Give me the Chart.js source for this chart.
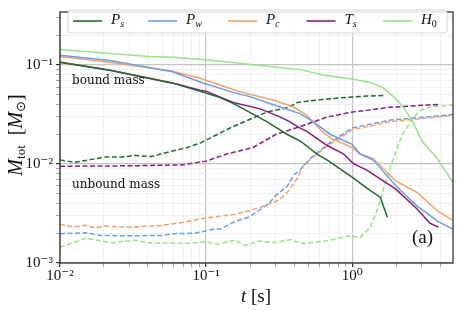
<!DOCTYPE html>
<html>
<head>
<meta charset="utf-8">
<script src="https://cdn.jsdelivr.net/npm/chart.js@4"></script>
<style>
  html, body { margin: 0; padding: 0; background: #fff; }
  #wrap { width: 457px; height: 311px; }
</style>
</head>
<body>
<div id="wrap"><canvas id="mycanvas"></canvas></div>
<script>
// bound mass (solid lines)
var tPsBound = [0.01, 0.022, 0.059, 0.091, 0.125, 0.153, 0.18, 0.26, 0.36, 0.44, 0.52, 0.57, 0.68, 1.02, 1.26, 1.56, 1.74];
var mPsBound = [0.107, 0.0888, 0.0657, 0.0545, 0.0469, 0.041, 0.0361, 0.0268, 0.0199, 0.0171, 0.0142, 0.0127, 0.0109, 0.0072, 0.0057, 0.0046, 0.0029];
var tPwBound = [0.01, 0.022, 0.059, 0.095, 0.153, 0.2, 0.26, 0.38, 0.44, 0.52, 0.71, 1.0, 1.13, 1.4, 2.0, 2.76, 3.9, 4.9];
var mPwBound = [0.126, 0.111, 0.0855, 0.066, 0.053, 0.048, 0.0419, 0.0348, 0.0323, 0.0278, 0.0199, 0.0158, 0.0127, 0.0109, 0.006, 0.0038, 0.0026, 0.0022];
var tPcBound = [0.01, 0.022, 0.059, 0.091, 0.153, 0.2, 0.30, 0.40, 0.49, 0.63, 0.71, 1.0, 1.13, 1.4, 2.0, 2.76, 3.9, 4.9];
var mPcBound = [0.122, 0.107, 0.0868, 0.0735, 0.0567, 0.0506, 0.0436, 0.0375, 0.0311, 0.021, 0.0184, 0.0147, 0.0127, 0.0113, 0.0067, 0.0052, 0.0033, 0.0027];
var tTsBound = [0.01, 0.022, 0.059, 0.091, 0.1, 0.153, 0.235, 0.32, 0.37, 0.44, 0.49, 0.63, 0.68, 0.87, 1.02, 1.26, 2.0, 2.76, 3.4, 3.9];
var mTsBound = [0.107, 0.0888, 0.066, 0.0557, 0.0545, 0.0419, 0.0361, 0.030, 0.027, 0.0231, 0.0214, 0.0165, 0.0153, 0.0127, 0.0101, 0.0087, 0.00555, 0.00355, 0.00253, 0.0023];
var tH0Bound = [0.01, 0.022, 0.041, 0.059, 0.1, 0.146, 0.2, 0.44, 0.63, 1.0, 1.33, 1.63, 1.9, 2.2, 2.6, 3.0, 3.8, 4.9];
var mH0Bound = [0.144, 0.131, 0.122, 0.1197, 0.113, 0.107, 0.1016, 0.090, 0.0793, 0.0725, 0.0667, 0.0588, 0.0487, 0.0389, 0.0268, 0.0171, 0.0115, 0.0065];

// unbound mass (dashed lines)
var tPsUnbound = [0.01, 0.0127, 0.0204, 0.0265, 0.0326, 0.042, 0.058, 0.072, 0.091, 0.153, 0.26, 0.37, 0.42, 0.63, 1.0, 1.67];
var mPsUnbound = [0.011, 0.0104, 0.0118, 0.0118, 0.0122, 0.0119, 0.0135, 0.0145, 0.0163, 0.0239, 0.0335, 0.0375, 0.0419, 0.045, 0.0477, 0.0495];
var tPwUnbound = [0.01, 0.015, 0.019, 0.029, 0.05, 0.061, 0.084, 0.098, 0.115, 0.124, 0.158, 0.195, 0.23, 0.27, 0.30, 0.36, 0.40, 0.44, 0.52, 0.68, 1.0, 1.83, 4.9];
var mPwUnbound = [0.00198, 0.00202, 0.0019, 0.00188, 0.0019, 0.00198, 0.0020, 0.0021, 0.00222, 0.00219, 0.00263, 0.0029, 0.0034, 0.0040, 0.0048, 0.006, 0.0078, 0.0087, 0.0115, 0.0158, 0.0231, 0.0278, 0.0316];
var tPcUnbound = [0.01, 0.0123, 0.015, 0.0174, 0.02, 0.031, 0.05, 0.072, 0.093, 0.109, 0.158, 0.2, 0.24, 0.29, 0.32, 0.36, 0.42, 0.46, 0.54, 0.68, 1.0, 1.83, 4.9];
var mPcUnbound = [0.00247, 0.00232, 0.0024, 0.00226, 0.00236, 0.0023, 0.0024, 0.0026, 0.0028, 0.0029, 0.0031, 0.0034, 0.0037, 0.0041, 0.0044, 0.0052, 0.0071, 0.0095, 0.0118, 0.0153, 0.0222, 0.0268, 0.0311];
var tTsUnbound = [0.01, 0.03, 0.068, 0.1, 0.14, 0.21, 0.30, 0.44, 0.68, 1.0, 1.83, 3.9];
var mTsUnbound = [0.0095, 0.0096, 0.0098, 0.0107, 0.0127, 0.0147, 0.0199, 0.0239, 0.030, 0.0335, 0.0375, 0.0401];
var tH0Unbound = [0.01, 0.015, 0.018, 0.0226, 0.033, 0.04, 0.076, 0.098, 0.12, 0.158, 0.185, 0.23, 0.28, 0.385, 0.44, 0.52, 0.71, 0.97, 1.13, 1.33, 1.47, 1.63, 1.83, 1.97, 2.2, 2.6, 2.9, 3.5, 4.9];
var mH0Unbound = [0.00144, 0.00178, 0.0017, 0.0016, 0.0017, 0.0016, 0.00158, 0.00164, 0.00155, 0.0017, 0.0015, 0.00167, 0.0016, 0.00173, 0.00158, 0.0016, 0.0017, 0.0019, 0.0018, 0.0023, 0.0033, 0.0055, 0.0094, 0.0127, 0.0199, 0.0288, 0.0348, 0.0381, 0.0395];

// legend + ticks
var seriesMain = ['P', 'P', 'P', 'T', 'H'];
var seriesSub = ['s', 'w', 'c', 's', '0'];
var seriesColor = ['#236b30', '#6d9eeb', '#f9a065', '#8c1c7a', '#9be08a'];
var xTickValues = [0.01, 0.1, 1];
var xTickLabels = ['10\u207B\u00B2', '10\u207B\u00B9', '10\u2070'];
var yTickValues = [0.001, 0.01, 0.1];
var yTickLabels = ['10\u207B\u00B3', '10\u207B\u00B2', '10\u207B\u00B9'];

var SERIF = '"Liberation Serif", "DejaVu Serif", serif';

function pts(t, m) {
  var out = [];
  for (var i = 0; i < t.length; i++) out.push({x: t[i], y: m[i]});
  return out;
}

var bound = [[tPsBound, mPsBound], [tPwBound, mPwBound], [tPcBound, mPcBound], [tTsBound, mTsBound], [tH0Bound, mH0Bound]];
var unbound = [[tPsUnbound, mPsUnbound], [tPwUnbound, mPwUnbound], [tPcUnbound, mPcUnbound], [tTsUnbound, mTsUnbound], [tH0Unbound, mH0Unbound]];

var datasets = [];
for (var i = 0; i < 5; i++) {
  datasets.push({
    label: seriesMain[i] + '_' + seriesSub[i],
    data: pts(bound[i][0], bound[i][1]),
    borderColor: seriesColor[i],
    borderWidth: 1.5,
    pointRadius: 0,
    fill: false,
    tension: 0
  });
}
for (var i = 0; i < 5; i++) {
  datasets.push({
    label: seriesMain[i] + '_' + seriesSub[i] + ' unbound',
    data: pts(unbound[i][0], unbound[i][1]),
    borderColor: seriesColor[i],
    borderWidth: 1.5,
    borderDash: [5, 2.5],
    pointRadius: 0,
    fill: false,
    tension: 0
  });
}

// log ticks: every 1..9 x 10^n, labels only on powers of ten
function logTicks(min, max) {
  var ticks = [];
  for (var e = Math.floor(Math.log10(min)); e <= Math.ceil(Math.log10(max)); e++) {
    for (var s = 1; s < 10; s++) {
      var v = parseFloat((s * Math.pow(10, e)).toPrecision(6));
      if (v >= min * 0.9999 && v <= max * 1.0001) ticks.push({value: v, major: s === 1});
    }
  }
  return ticks;
}

function labelFor(values, labels, v) {
  for (var i = 0; i < values.length; i++) {
    if (Math.abs(values[i] - v) / values[i] < 1e-6) return labels[i];
  }
  return '';
}

function gridColor(ctx) {
  return ctx.tick && ctx.tick.major ? '#c4c4c4' : '#eeeeee';
}
function gridWidth(ctx) {
  return ctx.tick && ctx.tick.major ? 1.2 : 0.8;
}
function tickColor(ctx) {
  return ctx.tick && ctx.tick.major ? '#333' : '#777';
}
function tickWidth(ctx) {
  return ctx.tick && ctx.tick.major ? 1.2 : 0.7;
}

// draw a run of text parts: [text, font, dy]
function drawParts(ctx, parts, x, y, align) {
  var w = 0;
  parts.forEach(function (p) { ctx.font = p[1]; w += ctx.measureText(p[0]).width; });
  var cx = align === 'center' ? x - w / 2 : x;
  ctx.textAlign = 'left';
  ctx.textBaseline = 'middle';
  parts.forEach(function (p) {
    ctx.font = p[1];
    ctx.fillText(p[0], cx, y + (p[2] || 0));
    cx += ctx.measureText(p[0]).width;
  });
}

var extras = {
  id: 'extras',
  afterDraw: function (chart) {
    var ctx = chart.ctx;
    var a = chart.chartArea;
    ctx.save();

    // frame
    ctx.strokeStyle = '#333';
    ctx.lineWidth = 1.3;
    ctx.strokeRect(a.left, a.top, a.right - a.left, a.bottom - a.top);

    // legend
    var bx = 68, by = 10, bw = 379, bh = 23, r = 3;
    ctx.beginPath();
    ctx.moveTo(bx + r, by);
    ctx.arcTo(bx + bw, by, bx + bw, by + bh, r);
    ctx.arcTo(bx + bw, by + bh, bx, by + bh, r);
    ctx.arcTo(bx, by + bh, bx, by, r);
    ctx.arcTo(bx, by, bx + bw, by, r);
    ctx.closePath();
    ctx.fillStyle = 'rgba(255,255,255,0.85)';
    ctx.fill();
    ctx.strokeStyle = '#d4d4d4';
    ctx.lineWidth = 1;
    ctx.stroke();

    var starts = [73, 148, 228, 306.5, 383];
    ctx.fillStyle = '#111';
    for (var i = 0; i < 5; i++) {
      ctx.strokeStyle = seriesColor[i];
      ctx.lineWidth = 1.6;
      ctx.beginPath();
      ctx.moveTo(starts[i], 21);
      ctx.lineTo(starts[i] + 29, 21);
      ctx.stroke();
      var subFont = seriesSub[i] === '0' ? '10px ' + SERIF : 'italic 10px ' + SERIF;
      drawParts(ctx, [[seriesMain[i], 'italic 15px ' + SERIF, 0], [seriesSub[i], subFont, 4]], starts[i] + 38, 20.5, 'left');
    }

    // annotations
    ctx.fillStyle = '#111';
    drawParts(ctx, [['bound mass', '12px "DejaVu Serif", serif', 0]], 72, 81, 'left');
    drawParts(ctx, [['unbound mass', '12px "DejaVu Serif", serif', 0]], 72, 185, 'left');
    drawParts(ctx, [['(a)', '19px ' + SERIF, 0]], 412, 238, 'left');

    // x title
    drawParts(ctx, [['t', 'italic 19px ' + SERIF, 0], [' [s]', '19px ' + SERIF, 0]], 256, 297, 'center');

    // y title
    ctx.translate(17, 135);
    ctx.rotate(-Math.PI / 2);
    drawParts(ctx, [
      ['M', 'italic 20px ' + SERIF, 0],
      ['tot', '13px ' + SERIF, 5],
      ['  [', '20px ' + SERIF, 0],
      ['M', 'italic 20px ' + SERIF, 0],
      ['\u2299', '13px "DejaVu Sans", sans-serif', 5],
      [']', '20px ' + SERIF, 0]
    ], 0, 0, 'center');
    ctx.restore();
  }
};

var ctx = document.getElementById('mycanvas');
var chart = new Chart(ctx, {
  type: 'line',
  data: {datasets: datasets},
  plugins: [extras],
  options: {
    responsive: true,
    maintainAspectRatio: false,
    animation: false,
    layout: {padding: {top: 3, right: 4, left: 0, bottom: 0}},
    plugins: {legend: {display: false}, tooltip: {enabled: false}},
    scales: {
      x: {
        type: 'logarithmic',
        min: 0.01,
        max: 4.9,
        afterBuildTicks: function (scale) { scale.ticks = logTicks(0.01, 4.9); },
        afterFit: function (scale) { scale.height = 48; },
        border: {display: false},
        grid: {color: gridColor, lineWidth: gridWidth, tickLength: 4, tickColor: tickColor, tickWidth: tickWidth},
        ticks: {
          autoSkip: false,
          maxRotation: 0,
          padding: 0,
          color: '#111',
          font: {family: SERIF, size: 15},
          callback: function (v) { return labelFor(xTickValues, xTickLabels, v); }
        }
      },
      y: {
        type: 'logarithmic',
        min: 0.001,
        max: 0.344,
        afterBuildTicks: function (scale) { scale.ticks = logTicks(0.001, 0.344); },
        afterFit: function (scale) { scale.width = 60; },
        border: {display: false},
        grid: {color: gridColor, lineWidth: gridWidth, tickLength: 4, tickColor: tickColor, tickWidth: tickWidth},
        ticks: {
          autoSkip: false,
          padding: 3,
          color: '#111',
          font: {family: SERIF, size: 15},
          callback: function (v) { return labelFor(yTickValues, yTickLabels, v); }
        }
      }
    }
  }
});
</script>
</body>
</html>
